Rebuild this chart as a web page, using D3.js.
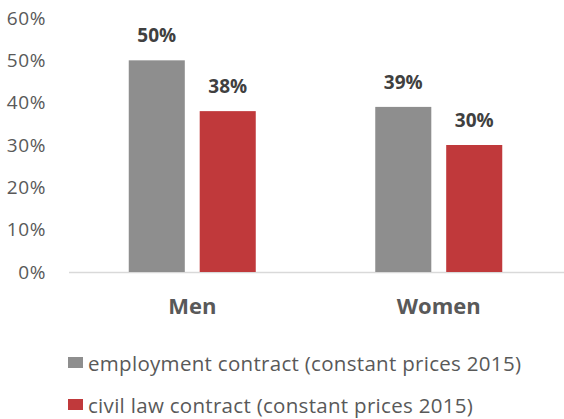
<!DOCTYPE html>
<html>
<head>
<meta charset="utf-8">
<script src="https://cdn.jsdelivr.net/npm/d3@7"></script>
<style>
  html, body { margin: 0; padding: 0; background: #fff; }
  svg { display: block; font-family: "Open Sans", "Noto Sans", sans-serif; }
</style>
</head>
<body>
<svg id="chart" width="564" height="419"></svg>
<script>
// Share of people by sex and contract type
const categories = ["Men", "Women"];
const seriesNames = [
  "employment contract (constant prices 2015)",
  "civil law contract (constant prices 2015)"
];
const employmentValues = [50, 39];
const civilLawValues = [38, 30];
const yTicks = [0, 10, 20, 30, 40, 50, 60];
const seriesColors = ["#8e8e8e", "#c0393b"];

const svg = d3.select("#chart");
const margin = { left: 69, right: 2, top: 18, bottom: 147 };
const width = 564, height = 419;
const baseY = height - margin.bottom; // 272

const y = d3.scaleLinear().domain([0, 60]).range([baseY, margin.top]);

const x0 = d3.scaleBand().domain(categories)
  .range([margin.left, width - margin.right])
  .paddingInner(0).paddingOuter(0);

const seriesKeys = [0, 1];
const x1 = d3.scaleBand().domain(seriesKeys)
  .range([0, 127]).paddingInner(0.21);
const innerOffset = (x0.bandwidth() - 127) / 2;

const rows = categories.map((c, i) => ({
  cat: c,
  vals: [employmentValues[i], civilLawValues[i]]
}));

// y axis labels
const yAxis = d3.axisLeft(y).tickValues(yTicks).tickFormat(d => d + "%").tickSize(0).tickPadding(0);
const gy = svg.append("g").attr("transform", `translate(46,0)`).call(yAxis);
gy.select(".domain").remove();
gy.selectAll("text").attr("fill", "#595959").style("font-size", "19px")
  .style("letter-spacing", "0.6px")
  .style("font-family", "'Open Sans', sans-serif");

// baseline
svg.append("line")
  .attr("x1", margin.left).attr("x2", width)
  .attr("y1", baseY + 0.5).attr("y2", baseY + 0.5)
  .attr("stroke", "#d9d9d9").attr("stroke-width", 1.5);

// bars
const groups = svg.selectAll("g.grp").data(rows).join("g")
  .attr("class", "grp")
  .attr("transform", d => `translate(${x0(d.cat) + innerOffset},0)`);

groups.selectAll("rect").data(d => d.vals.map((v, k) => ({ v, k }))).join("rect")
  .attr("x", d => x1(d.k))
  .attr("width", x1.bandwidth())
  .attr("y", d => y(d.v))
  .attr("height", d => baseY - y(d.v))
  .attr("fill", d => seriesColors[d.k]);

groups.selectAll("text.val").data(d => d.vals.map((v, k) => ({ v, k }))).join("text")
  .attr("class", "val")
  .attr("x", d => x1(d.k) + x1.bandwidth() / 2)
  .attr("y", d => y(d.v) - 18)
  .attr("text-anchor", "middle")
  .attr("fill", "#404040")
  .style("font-size", "19px").style("font-weight", "bold")
  .text(d => d.v + "%");

// category labels
const xAxis = d3.axisBottom(x0).tickSize(0).tickPadding(0);
const gx = svg.append("g").attr("transform", `translate(0,0)`).call(xAxis);
gx.select(".domain").remove();
gx.selectAll("text").attr("fill", "#595959")
  .attr("y", baseY + 42).attr("dy", null)
  .style("font-size", "22px").style("font-weight", "bold")
  .style("font-family", "'Open Sans', sans-serif");

// legend
const legend = svg.append("g");
seriesNames.forEach((name, i) => {
  const ly = 357 + i * 42;
  legend.append("rect")
    .attr("x", 68).attr("y", ly).attr("width", 15).attr("height", 11)
    .attr("fill", seriesColors[i]);
  legend.append("text")
    .attr("x", 88).attr("y", ly + 14)
    .attr("fill", "#595959")
    .style("font-size", "20.5px")
    .style("letter-spacing", "0.3px")
    .text(name);
});
</script>
</body>
</html>
